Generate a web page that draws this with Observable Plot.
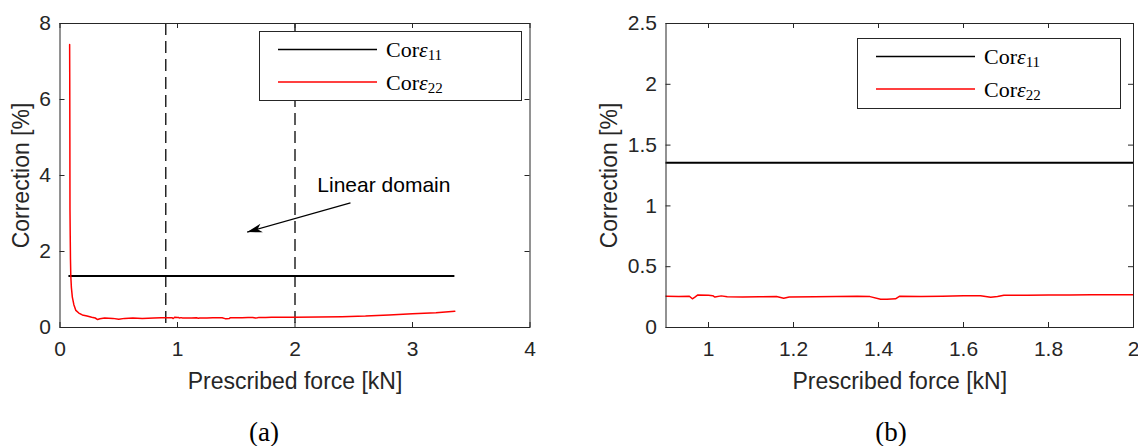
<!DOCTYPE html>
<html>
<head>
<meta charset="utf-8">
<script src="https://cdn.jsdelivr.net/npm/d3@7"></script>
<script src="https://cdn.jsdelivr.net/npm/@observablehq/plot@0.6"></script>
<style>
  body { margin: 0; background: #fff; }
  #wrap { position: relative; width: 1138px; height: 446px; overflow: hidden; background: #fff; }
  .panel { position: absolute; top: 0; }
  .legend { position: absolute; }
  .caption { position: absolute; top: 414px; width: 80px; text-align: center;
    font-family: "Liberation Serif", "DejaVu Serif", serif; font-size: 27px; color: #000; line-height: 36px; }
</style>
</head>
<body>
<div id="wrap"></div>
<script>
// ---------------- data ----------------
const seriesNames = ["Corε11", "Corε22"];
const seriesColors = ["#000000", "#ff0000"];

// Cor eps11 (black, nearly constant)
const cor11X = [0.078, 0.5, 0.9, 1.2, 1.5, 1.8, 2.0, 2.5, 3.0, 3.35];
const cor11Y = [1.356, 1.355, 1.355, 1.354, 1.355, 1.355, 1.355, 1.356, 1.355, 1.355];

// Cor eps22 (red)
const cor22X = [0.082, 0.083, 0.084, 0.085, 0.087, 0.089, 0.092, 0.097, 0.105, 0.118, 0.135, 0.16, 0.19, 0.23, 0.27, 0.30, 0.32, 0.34, 0.38, 0.45, 0.50, 0.55, 0.62, 0.70, 0.80, 0.86,
  0.90, 0.93, 0.955, 0.962, 0.968, 0.975, 1.00, 1.01, 1.015, 1.03, 1.044, 1.08, 1.12, 1.16, 1.177, 1.19, 1.25, 1.30, 1.35, 1.38, 1.405, 1.42, 1.44, 1.45, 1.50, 1.55, 1.60, 1.64, 1.664, 1.68, 1.695, 1.75, 1.80, 1.85, 1.90, 1.95, 2.00,
  2.2, 2.4, 2.6, 2.8, 3.0, 3.2, 3.36];
const cor22Y = [7.45, 6.5, 5.0, 3.1, 2.4, 1.8, 1.35, 1.05, 0.80, 0.60, 0.45, 0.38, 0.33, 0.30, 0.27, 0.25, 0.21, 0.23, 0.25, 0.24, 0.22, 0.24, 0.25, 0.24, 0.25, 0.255,
  0.257, 0.255, 0.257, 0.236, 0.250, 0.268, 0.265, 0.262, 0.250, 0.260, 0.252, 0.250, 0.253, 0.255, 0.241, 0.250, 0.252, 0.254, 0.257, 0.254, 0.233, 0.232, 0.236, 0.258, 0.255, 0.258, 0.262, 0.262, 0.249, 0.255, 0.266, 0.266, 0.267, 0.268, 0.269, 0.270, 0.270,
  0.275, 0.285, 0.30, 0.33, 0.36, 0.39, 0.43];

// linear domain bounds
const domainBounds = [0.9, 2.0];

// annotation
const annotText = "Linear domain";
const annotPos = {x: 2.19, y: 3.75};
const arrowFrom = {x: 2.472, y: 3.28};
const arrowTo = {x: 1.593, y: 2.51};

// ticks
const xTicksA = [0, 1, 2, 3, 4];
const yTicksA = [0, 2, 4, 6, 8];
const xTicksB = [1, 1.2, 1.4, 1.6, 1.8, 2];
const yTicksB = [0, 0.5, 1, 1.5, 2, 2.5];
const xTickLabelsB = ["1", "1.2", "1.4", "1.6", "1.8", "2"];
const yTickLabelsB = ["0", "0.5", "1", "1.5", "2", "2.5"];

const xTitle = "Prescribed force [kN]";
const yTitle = "Correction [%]";
const captions = ["(a)", "(b)"];

// ---------------- build ----------------
const cor11 = cor11X.map((x, i) => ({x, y: cor11Y[i]}));
const cor22 = cor22X.map((x, i) => ({x, y: cor22Y[i]}));

const axisColor = "#262626";
const W = 569, H = 446;

function inwardTicks(xt, yt, pw, ph) {
  const L = 5;
  return [
    Plot.ruleX(xt, {x: d => d, insetTop: ph - L, stroke: axisColor}),
    Plot.ruleX(xt, {x: d => d, insetBottom: ph - L, stroke: axisColor}),
    Plot.ruleY(yt, {y: d => d, insetRight: pw - L, stroke: axisColor}),
    Plot.ruleY(yt, {y: d => d, insetLeft: pw - L, stroke: axisColor})
  ];
}

// arrowhead symbol pointing to +x, tip at origin
const arrowHead = {
  draw(ctx, size) {
    const L = 15, Wd = 4.5;
    ctx.moveTo(0, 0);
    ctx.lineTo(-L, -Wd);
    ctx.lineTo(-L * 0.72, 0);
    ctx.lineTo(-L, Wd);
    ctx.closePath();
  }
};

function makePanel(cfg) {
  const pw = W - cfg.ml - cfg.mr, ph = H - cfg.mt - cfg.mb;
  const marks = [
    ...(cfg.extraBefore ? cfg.extraBefore(pw, ph) : []),
    Plot.line(cor11, {x: "x", y: "y", stroke: seriesColors[0], strokeWidth: 2, clip: true}),
    Plot.line(cor22, {x: "x", y: "y", stroke: seriesColors[1], strokeWidth: 1.5, clip: true}),
    ...(cfg.extraAfter ? cfg.extraAfter(pw, ph) : []),
    ...inwardTicks(cfg.xt, cfg.yt, pw, ph),
    Plot.frame({stroke: axisColor, strokeWidth: 1}),
    Plot.text([xTitle], {frameAnchor: "bottom", dy: 54, lineAnchor: "middle", textAnchor: "middle", fontSize: 23, fill: axisColor}),
    Plot.text([yTitle], {frameAnchor: "left", dx: cfg.ytdx, rotate: -90, lineAnchor: "middle", textAnchor: "middle", fontSize: 23, fill: axisColor})
  ];
  return Plot.plot({
    width: W, height: H,
    marginLeft: cfg.ml, marginRight: cfg.mr, marginTop: cfg.mt, marginBottom: cfg.mb,
    style: {fontFamily: '"Liberation Sans", Arial, sans-serif', fontSize: "21px", color: axisColor, background: "transparent", overflow: "visible"},
    x: {domain: cfg.xd, ticks: cfg.xt, tickSize: 0, tickPadding: 14, label: null, tickFormat: cfg.xf},
    y: {domain: cfg.yd, ticks: cfg.yt, tickSize: 0, tickPadding: 9, label: null, tickFormat: cfg.yf},
    marks
  });
}

const wrap = document.getElementById("wrap");

const angleDeg = (() => {
  const dxp = (arrowTo.x - arrowFrom.x) * (W - 59.5 - 39.5) / 4;
  const dyp = -(arrowTo.y - arrowFrom.y) * (H - 23 - 119) / 8;
  return Math.atan2(dyp, dxp) * 180 / Math.PI;
})();

const panelA = makePanel({
  ml: 59.5, mr: 39.5, mt: 23, mb: 119,
  xd: [0, 4], yd: [0, 8], xt: xTicksA, yt: yTicksA,
  xf: d => String(d), yf: d => String(d), ytdx: -38,
  extraBefore: () => [
    Plot.ruleX(domainBounds, {x: d => d, stroke: axisColor, strokeWidth: 1.5, strokeDasharray: "12,6"})
  ],
  extraAfter: () => [
    Plot.link([arrowFrom], {x1: "x", y1: "y", x2: () => arrowTo.x, y2: () => arrowTo.y, stroke: "#000", strokeWidth: 1.2}),
    Plot.dot([arrowTo], {x: "x", y: "y", symbol: arrowHead, fill: "#000", stroke: "none", r: 5, rotate: angleDeg}),
    Plot.text([annotPos], {x: "x", y: "y", text: () => annotText, textAnchor: "start", fontSize: 21, fill: "#000"})
  ]
});
panelA.classList.add("panel");
panelA.style.left = "0px";
wrap.appendChild(panelA);

const panelB = makePanel({
  ml: 96.5, mr: 5, mt: 23, mb: 119,
  xd: [0.9, 2], yd: [0, 2.5], xt: xTicksB, yt: yTicksB,
  xf: (d, i) => xTickLabelsB[i], yf: (d, i) => yTickLabelsB[i], ytdx: -56.5
});
panelB.classList.add("panel");
panelB.style.left = W + "px";
wrap.appendChild(panelB);

// legends (inside plot areas)
function legend(left, top, w, h) {
  const ns = "http://www.w3.org/2000/svg";
  const svg = document.createElementNS(ns, "svg");
  svg.setAttribute("width", w); svg.setAttribute("height", h);
  svg.setAttribute("class", "legend");
  svg.style.left = left + "px"; svg.style.top = top + "px";
  const rect = document.createElementNS(ns, "rect");
  rect.setAttribute("x", 0.5); rect.setAttribute("y", 0.5);
  rect.setAttribute("width", w - 1); rect.setAttribute("height", h - 1);
  rect.setAttribute("fill", "#fff"); rect.setAttribute("stroke", axisColor);
  svg.appendChild(rect);
  const rows = [18.5, 51];
  seriesNames.forEach((name, i) => {
    const ln = document.createElementNS(ns, "line");
    ln.setAttribute("x1", 19); ln.setAttribute("x2", 118);
    ln.setAttribute("y1", rows[i]); ln.setAttribute("y2", rows[i]);
    ln.setAttribute("stroke", seriesColors[i]); ln.setAttribute("stroke-width", 1.6);
    svg.appendChild(ln);
    const t = document.createElementNS(ns, "text");
    t.setAttribute("x", 127); t.setAttribute("y", rows[i] + 7.5);
    t.setAttribute("font-family", '"Liberation Serif", "DejaVu Serif", serif');
    t.setAttribute("font-size", 22); t.setAttribute("fill", "#000");
    const base = name.slice(0, 3), eps = name.slice(3, 4), sub = name.slice(4);
    const s1 = document.createElementNS(ns, "tspan"); s1.textContent = base; t.appendChild(s1);
    const s2 = document.createElementNS(ns, "tspan"); s2.textContent = eps; s2.setAttribute("font-style", "italic"); t.appendChild(s2);
    const s3 = document.createElementNS(ns, "tspan"); s3.textContent = sub; s3.setAttribute("font-size", 15); s3.setAttribute("dy", 3); t.appendChild(s3);
    svg.appendChild(t);
  });
  wrap.appendChild(svg);
}
legend(259, 31, 263, 70);
legend(857, 38, 264, 71);

// captions
[[264, captions[0]], [891, captions[1]]].forEach(([cx, txt]) => {
  const d = document.createElement("div");
  d.className = "caption";
  d.style.left = (cx - 40) + "px";
  d.textContent = txt;
  wrap.appendChild(d);
});
</script>
</body>
</html>
